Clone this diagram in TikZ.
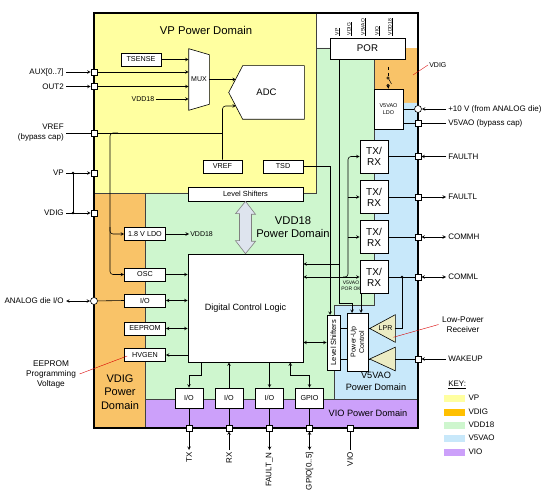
\documentclass[tikz,border=0pt]{standalone}
\usepackage{fontspec}
\setmainfont{Liberation Sans}
\usetikzlibrary{shapes.geometric, arrows, positioning, calc}

\definecolor{vpfill}{RGB}{255,255,160}
\definecolor{vdigfill}{RGB}{249,195,104}
\definecolor{vddfill}{RGB}{206,246,206}
\definecolor{vaofill}{RGB}{200,232,250}
\definecolor{viofill}{RGB}{204,160,250}
\definecolor{vdigkey}{RGB}{255,192,0}
\definecolor{trifill}{RGB}{236,236,196}
\definecolor{dblfill}{RGB}{222,228,238}
\newcommand{\fsz}[2]{\fontsize{#1}{#2}\selectfont}

\begin{document}
\begin{tikzpicture}[
  x=1pt, y=-1pt,
  font=\fsz{8}{10},
  line width=0.6pt,
  box/.style={draw, fill=white, inner sep=0pt, minimum width=41pt,
              minimum height=13pt, align=center, font=\fsz{7.2}{8}},
  iobox/.style={draw, fill=white, inner sep=0pt, minimum width=28pt,
                minimum height=20pt, font=\fsz{7.2}{8}},
  trx/.style={draw, fill=white, inner sep=0pt, minimum width=28pt,
              minimum height=33pt, align=center, font=\fsz{10}{11}},
  sqpin/.style={draw, fill=white, inner sep=0pt, minimum size=6pt},
  cpin/.style={draw, circle, fill=white, inner sep=0pt, minimum size=7pt},
  lbl/.style={inner sep=2pt, font=\fsz{8}{10}},
  smalltxt/.style={inner sep=0.5pt, font=\fsz{5}{5.5}, align=center},
  dom/.style={align=center},
  region/.style={draw=black!75, line width=0.5pt},
  swatch/.style={minimum width=21pt, minimum height=7pt, inner sep=0pt},
  arr/.style={->, >=stealth},
  arr2/.style={<->, >=stealth},
  redline/.style={red!85!black, line width=0.4pt},
  tri/.style={draw, fill=trifill},
]
\useasboundingbox (0,0) rectangle (554,494);

%% Power domains
\fill[vpfill] (94,13) rectangle (316,193);
\fill[white] (316,13) rectangle (418,48);
\fill[vdigfill] (94,193) rectangle (145,428);
\fill[vdigfill] (374,48) rectangle (418,103);
\fill[vddfill] (145,193) -- (316,193) -- (316,48) -- (374,48) -- (374,305)
  -- (334,305) -- (334,399) -- (145,399) -- cycle;
\fill[vaofill] (374,103) -- (418,103) -- (418,399) -- (334,399) -- (334,305)
  -- (374,305) -- cycle;
\fill[viofill] (145,399) rectangle (418,428);
\draw[region] (94,193) -- (316,193) -- (316,13);
\draw[region] (145,193) -- (145,428);
\draw[region] (316,48) -- (374,48) -- (374,305) -- (334,305) -- (334,399);
\draw[region] (145,399) -- (418,399);
\draw[line width=1.3pt] (94,13) rectangle (418,428);

\node[dom, font=\fsz{11.3}{13}] (vplbl) at (206,30) {VP Power Domain};
\node[dom, font=\fsz{11.2}{13.5}] (vddlbl) at (293,227) {VDD18\\Power Domain};
\node[dom, font=\fsz{11}{13.5}] (vdiglbl) at (120,392) {VDIG\\Power\\Domain};
\node[dom, font=\fsz{9.2}{12}] (vaolbl) at (376,381) {V5VAO\\Power Domain};
\node[dom, font=\fsz{9.2}{11}] (violbl) at (368,413) {VIO Power Domain};

%% Left pins
\node[sqpin] (paux) at (94,72) {};
\node[sqpin] (pout2) at (94,86.5) {};
\node[sqpin] (pvref) at (94,133) {};
\node[sqpin] (pvp) at (94,173) {};
\node[sqpin] (pvdig) at (94,213) {};
\node[cpin] (pana) at (94,301) {};

\node[lbl, anchor=east] (laux) at (66,72) {AUX[0..7]};
\node[lbl, anchor=east] (lout2) at (66,86.5) {OUT2};
\node[lbl, anchor=east, align=right] (lvref) at (66,133) {VREF\\(bypass cap)};
\node[lbl, anchor=east] (lvp) at (66,173) {VP};
\node[lbl, anchor=east] (lvdig) at (66,213) {VDIG};
\node[lbl, anchor=east] (lana) at (66,301) {ANALOG die I/O};

\draw[arr] (laux) -- (paux);
\draw[arr] (lout2) -- (pout2);
\draw (lvref) -- (pvref);
\draw[arr] (lvp) -- (pvp);
\draw[arr] (lvdig) -- (pvdig);
\draw[arr2] (lana) -- (pana);
\coordinate (jvp) at (73,173);
\coordinate (jvdig) at (73,213);
\draw (jvp) -- (jvdig);
\fill (jvp) circle (1.3pt);
\fill (jvdig) circle (1.3pt);

%% MUX and ADC
\node[box, minimum width=40pt] (tsense) at (141,59.5) {TSENSE};
\node[inner sep=1pt, font=\fsz{7}{8}] (vddmux) at (143,99) {VDD18};
\node[inner sep=0pt, minimum width=20pt, minimum height=61pt] (mux) at (199,79.5) {};
\draw[fill=white] (mux.north west) -- ($(mux.north east)+(0,6)$)
  -- ($(mux.south east)+(0,-6)$) -- (mux.south west) -- cycle;
\node[font=\fsz{7}{8}] (muxtxt) at (mux) {MUX};

\node[inner sep=0pt, minimum width=75pt, minimum height=53pt] (adc) at (266.5,92.5) {};
\draw[fill=white] ($(adc.north west)+(14,0)$) -- (adc.north east) -- (adc.south east)
  -- ($(adc.south west)+(14,0)$) -- (adc.west) -- cycle;
\node[font=\fsz{9.5}{11}] (adctxt) at (adc) {ADC};
\coordinate (adcin1) at (236,79.5);
\coordinate (adcin2) at (236,106);

\draw[arr] (paux) -- (paux -| mux.west);
\draw[arr] (pout2) -- (pout2 -| mux.west);
\draw[arr] (tsense) -- (tsense -| mux.west);
\draw[arr] (vddmux) -- (vddmux -| mux.west);
\draw[arr] (mux.east) -- (adcin1);

\node[box, minimum width=39pt] (vref) at (222.5,166.5) {VREF};
\node[box, minimum width=40pt] (tsd) at (283,166.5) {TSD};
\draw[arr, rounded corners=3pt] (vref.north) |- (adcin2);
\draw (pvref) -- (pvref -| vref.north);

%% Level shifters and digital core
\node[box, minimum width=115pt, minimum height=14pt, font=\fsz{7.4}{8}] (lsh) at (245.5,194) {Level Shifters};
\node[draw, fill=white, minimum width=115pt, minimum height=108pt,
      font=\fsz{9.1}{11}] (dcl) at (245.5,308) {Digital Control Logic};
\draw[gray, fill=dblfill] (lsh.south) -- ++(10,13) -- ++(-4,0) -- ++(0,27) -- ++(4,0)
  -- (dcl.north) -- ++(-10,-13) -- ++(4,0) -- ++(0,-27) -- ++(-4,0) -- cycle;

%% VDIG column
\node[box] (ldo) at (145,234) {1.8 V LDO};
\node[box] (osc) at (145,274.5) {OSC};
\node[box] (io) at (145,300.5) {I/O};
\node[box] (eeprom) at (145,328.5) {EEPROM};
\node[box] (hvgen) at (145,355) {HVGEN};
\node[inner sep=1pt, font=\fsz{7}{8}, anchor=west] (vddldo) at (189,234) {VDD18};

\coordinate (jsup) at (110,133);
\draw[arr, rounded corners=3pt] ($(jsup)+(8,0)$) -- (jsup) |- (osc.west);
\draw[arr, rounded corners=3pt] (jsup |- ldo.north) |- (ldo.west);
\draw[arr] (ldo) -- (vddldo);
\draw[arr] (osc.east) -- (osc.east -| dcl.west);
\draw[arr2] (io.east) -- (io.east -| dcl.west);
\draw[arr2] (eeprom.east) -- (eeprom.east -| dcl.west);
\draw[arr] (hvgen.east -| dcl.west) -- (hvgen.east);
\draw (pana) -- (io.west);

\node[dom, font=\fsz{8.3}{10}] (eeprog) at (51,374) {EEPROM\\Programming\\Voltage};
\draw[redline] (eeprog.east) -- ($(hvgen.west)+(3,1)$);

%% VIO pins
\node[iobox] (io1) at (189,398) {I/O};
\node[iobox] (io2) at (229,398) {I/O};
\node[iobox] (io3) at (269.5,398) {I/O};
\node[iobox] (gpio) at (309.5,398) {GPIO};

\node[sqpin] (ptx) at (189,428) {};
\node[sqpin] (prx) at (229,428) {};
\node[sqpin] (pflt) at (269.5,428) {};
\node[sqpin] (pgpio) at (309.5,428) {};
\node[sqpin] (pvio) at (350,428) {};

\node[lbl, rotate=90, anchor=east] (ltx) at (189,450) {TX};
\node[lbl, rotate=90, anchor=east] (lrx) at (229,450) {RX};
\node[lbl, rotate=90, anchor=east] (lflt) at (269.5,450) {FAULT\_N};
\node[lbl, rotate=90, anchor=east] (lgpio) at (309.5,450) {GPIO[0..5]};
\node[lbl, rotate=90, anchor=east] (lvio) at (350,450) {VIO};

\draw[arr] ($(dcl.south west)+(14,0)$) -- ++(0,13) -| (io1.north);
\draw[arr] (io2.north) -- (io2.north |- dcl.south);
\draw[arr] (io3.north |- dcl.south) -- (io3.north);
\draw[arr2] ($(dcl.south east)+(-13,0)$) -- ++(0,13) -| (gpio.north);

\draw (io1) -- (ptx);
\draw (io2) -- (prx);
\draw (io3) -- (pflt);
\draw (gpio) -- (pgpio);
\draw[arr] (ptx) -- (ltx);
\draw[arr] (lrx) -- (prx);
\draw[arr] (pflt) -- (lflt);
\draw[arr2] (pgpio) -- (lgpio);
\draw (pvio) -- (lvio);

%% POR and V5VAO supply
\node[draw, fill=white, minimum width=75pt, minimum height=21pt, inner sep=0pt,
      font=\fsz{9.7}{11}] (por) at (367.5,48.5) {POR};
\node[smalltxt, rotate=90, anchor=west] (inp1) at (337,36) {VP};
\node[smalltxt, rotate=90, anchor=west] (inp2) at (349,36) {VDIG};
\node[smalltxt, rotate=90, anchor=west] (inp3) at (363,36) {V5VAO};
\node[smalltxt, rotate=90, anchor=west] (inp4) at (377,36) {VIO};
\node[smalltxt, rotate=90, anchor=west] (inp5) at (390,36) {VDD18};
\draw[line width=0.4pt] (inp1.south west) -- (inp1.south east);
\draw[line width=0.4pt] (inp2.south west) -- (inp2.south east);
\draw[line width=0.4pt] (inp3.south west) -- (inp3.south east);
\draw[line width=0.4pt] (inp4.south west) -- (inp4.south east);
\draw[line width=0.4pt] (inp5.south west) -- (inp5.south east);

\node[draw, fill=white, minimum width=29pt, minimum height=40pt, inner sep=0pt,
      font=\fsz{5.5}{6.5}, align=center] (ldo5) at (388.5,109) {V5VAO\\LDO};
\coordinate (swtop) at (388,67);
\draw[dashed, line width=0.5pt] (swtop) -- ++(0,9);
\draw[line width=0.5pt] (388,78) circle (1.2pt);
\draw[line width=0.5pt] (388.8,79) -- (391.5,84);
\fill (388,85) circle (1.2pt);
\draw[arr] (388,85) -- (ldo5.north);

\node[inner sep=1pt, font=\fsz{7}{8}, anchor=west] (lvdigr) at (428,65) {VDIG};
\draw[redline] (413,75) -- (lvdigr.west);

%% Right pins
\node[cpin] (pten) at (418,109) {};
\node[sqpin] (pbyp) at (418,123) {};
\node[sqpin] (pfh) at (418,156.5) {};
\node[sqpin] (pfl) at (418,197) {};
\node[sqpin] (pcmh) at (418,237) {};
\node[sqpin] (pcml) at (418,277) {};
\node[sqpin] (pwk) at (418,359) {};

\node[lbl, anchor=west] (lten) at (446,109) {+10 V (from ANALOG die)};
\node[lbl, anchor=west] (lbyp) at (446,123) {V5VAO (bypass cap)};
\node[lbl, anchor=west] (lfh) at (446,156.5) {FAULTH};
\node[lbl, anchor=west] (lfl) at (446,197) {FAULTL};
\node[lbl, anchor=west] (lcmh) at (446,237) {COMMH};
\node[lbl, anchor=west] (lcml) at (446,277) {COMML};
\node[lbl, anchor=west] (lwk) at (446,359) {WAKEUP};

\draw (ldo5.east |- pten) -- (pten);
\draw (pbyp) -- (pbyp -| ldo5.east);
\draw[arr] (lten) -- (pten);
\draw (lbyp) -- (pbyp);
\draw[arr] (lfh) -- (pfh);
\draw[arr] (pfl) -- (lfl);
\draw[arr2] (pcmh) -- (lcmh);
\draw[arr2] (pcml) -- (lcml);
\draw[arr] (lwk) -- (pwk);

%% Transceivers
\node[trx] (trx1) at (374,156.5) {TX/\\RX};
\node[trx] (trx2) at (374,197) {TX/\\RX};
\node[trx] (trx3) at (374,237) {TX/\\RX};
\node[trx] (trx4) at (374,277) {TX/\\RX};
\draw (trx1) -- (pfh);
\draw (trx2) -- (pfl);
\draw (trx3) -- (pcmh);
\draw (trx4) -- (pcml);

\coordinate (jbus) at (348,277);
\draw[arr2] (trx4.west -| dcl.east) -- (trx4.west);
\draw[arr, rounded corners=3pt] ($(jbus)+(-5,0)$) -| (jbus |- trx2.west) |- (trx1.west);
\draw[arr] (jbus |- trx2.west) -- (trx2.west);
\draw[arr] (jbus |- trx3.west) -- (trx3.west);

%% Wake-up logic
\node[draw, fill=white, minimum width=13pt, minimum height=55pt, inner sep=0pt] (lsh2) at (333.5,342.5) {};
\node[rotate=90, font=\fsz{7.5}{8}] (lsh2txt) at (lsh2) {Level Shifters};
\node[draw, fill=white, minimum width=21pt, minimum height=58pt, inner sep=0pt] (pwr) at (357.5,342) {};
\node[rotate=90, align=center, font=\fsz{7}{8.5}] (pwrtxt) at (pwr) {Power-Up\\Control};
\node[inner sep=0pt, minimum width=25pt, minimum height=27pt] (lpr) at (382.5,328.5) {};
\draw[tri] (lpr.west) -- (lpr.north east) -- (lpr.south east) -- cycle;
\node[font=\fsz{7}{8}] (lprtxt) at ($(lpr.center)+(3,0)$) {LPR};
\node[inner sep=0pt, minimum width=25pt, minimum height=23pt] (wk) at (382.5,359) {};
\draw[tri] (wk.west) -- (wk.north east) -- (wk.south east) -- cycle;

\node[smalltxt] (porok) at (351,286) {V5VAO\\POR OK};
\coordinate (porbus) at (339,264);
\coordinate (pwrin1) at (352,313);
\coordinate (pwrin2) at (361,313);
\coordinate (lshin) at (330,315);
\draw[arr] (porbus |- por.south) -- (porbus) -- (porbus -| dcl.east);
\draw[arr] (porbus) |- ($(pwrin1)+(0,-10)$) -- (pwrin1);
\draw[arr] (pwrin2 |- trx4.south) -- (pwrin2);
\draw[arr] (tsd.east) -| (lshin);

\draw[arr2] (lsh2.west -| dcl.east) -- (lsh2.west);
\draw (lsh2.east |- lpr) -- (pwr.west |- lpr);
\draw (lsh2.east |- wk) -- (pwr.west |- wk);
\draw (lpr.west) -- (lpr.west -| pwr.east);
\draw (wk.west) -- (wk.west -| pwr.east);
\coordinate (jcml) at (402,277);
\draw (jcml) |- (lpr.east);
\fill (jcml) circle (1.3pt);
\draw (pwk) -- (wk.east);

\node[dom, font=\fsz{8.3}{10}] (lprlbl) at (463,324.5) {Low-Power\\Receiver};
\draw[redline] (lprlbl.west) -- ($(lpr.south east)+(-2,-5)$);

%% Key
\node[lbl, anchor=west] (keyttl) at (446,385) {\underline{KEY:}};
\node[swatch, fill=vpfill] (kvp) at (454.5,398) {};
\node[swatch, fill=vdigkey] (kvdig) at (454.5,412) {};
\node[swatch, fill=vddfill] (kvdd) at (454.5,425) {};
\node[swatch, fill=vaofill] (kvao) at (454.5,438) {};
\node[swatch, fill=viofill] (kvio) at (454.5,452) {};
\node[lbl, right=1pt of kvp] (tvp) {VP};
\node[lbl, right=1pt of kvdig] (tvdig) {VDIG};
\node[lbl, right=1pt of kvdd] (tvdd) {VDD18};
\node[lbl, right=1pt of kvao] (tvao) {V5VAO};
\node[lbl, right=1pt of kvio] (tvio) {VIO};

\end{tikzpicture}
\end{document}
